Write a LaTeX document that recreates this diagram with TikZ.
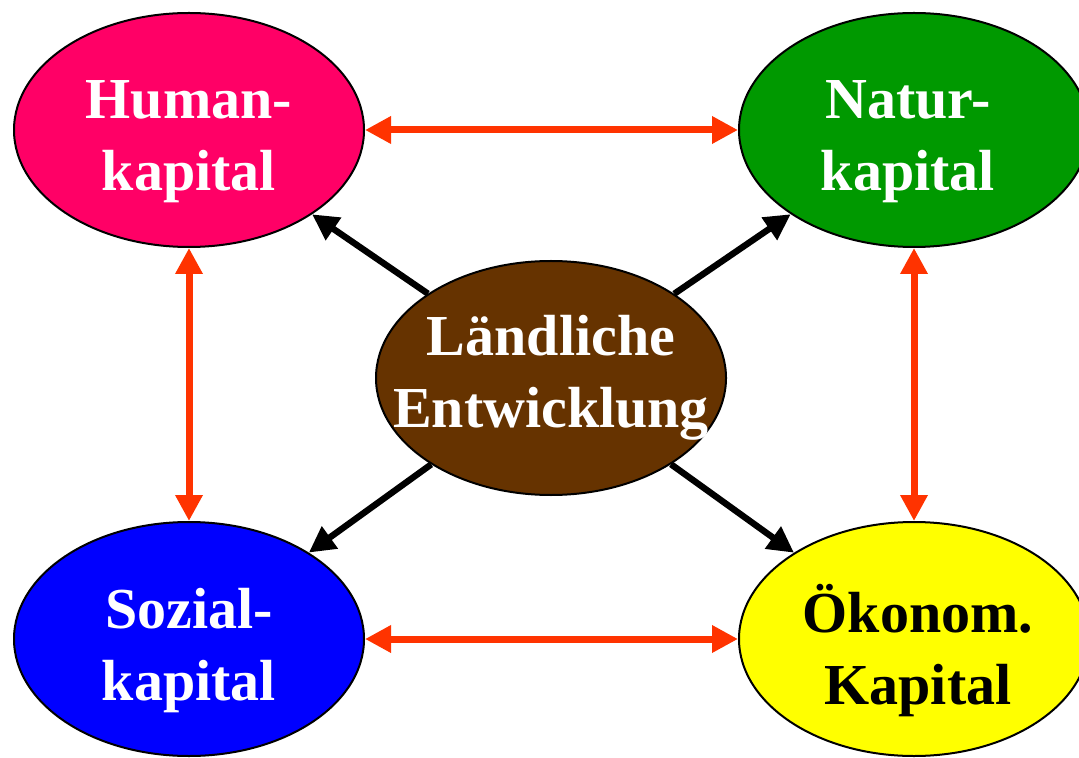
\documentclass[tikz,border=0pt]{standalone}
\usepackage{fontspec}
\setmainfont{Liberation Serif}
\usetikzlibrary{shapes.geometric,arrows.meta}
\definecolor{humanrot}{HTML}{FF0066}
\definecolor{naturgruen}{HTML}{009900}
\definecolor{sozialblau}{HTML}{0000FF}
\definecolor{oekogelb}{HTML}{FFFF00}
\definecolor{landbraun}{HTML}{663300}
\definecolor{pfeilrot}{HTML}{FF3300}
\tikzset{
	kapital/.style={ellipse, draw=black, line width=1pt, minimum width=175pt, minimum height=117pt},
	schrift/.style={font=\bfseries\fontsize{29pt}{36pt}\selectfont, align=center, text=white},
	wechsel/.style={<->, draw=pfeilrot, line width=3.5pt},
	wirkung/.style={->, draw=black, line width=3.2pt}
}
\begin{document}
\begin{tikzpicture}[x=0.5pt, y=-0.5pt, >={Triangle[length=13pt,width=13pt]}]
	\clip (0,0) rectangle (1079,758) ; % bildrand
	% die fuenf kapitalarten
	\node[kapital, fill=humanrot] (human) at (189,130) {};
	\node[kapital, fill=naturgruen] (natur) at (914,130) {};
	\node[kapital, fill=sozialblau] (sozial) at (189,639) {};
	\node[kapital, fill=oekogelb] (oekonom) at (914,639) {};
	\node[kapital, fill=landbraun] (land) at (551,378) {};
	\node[schrift] (humantext) at ([yshift=-6pt]human) {Human-\\kapital};
	\node[schrift] (naturtext) at ([xshift=-3pt, yshift=-6pt]natur) {Natur-\\kapital};
	\node[schrift] (sozialtext) at ([yshift=-6pt]sozial) {Sozial-\\kapital};
	\node[schrift, text=black] (oekonomtext) at ([xshift=2pt, yshift=-6pt]oekonom) {Ökonom.\\Kapital};
	\node[schrift] (landtext) at (land) {Ländliche\\Entwicklung};
	% pfeile
	\draw[wechsel] (human) -- (natur);
	\draw[wechsel] (sozial) -- (oekonom);
	\draw[wechsel] (human) -- (sozial);
	\draw[wechsel] (natur) -- (oekonom);
	\draw[wirkung] (land) -- (human);
	\draw[wirkung] (land) -- (natur);
	\draw[wirkung] (land) -- (sozial);
	\draw[wirkung] (land) -- (oekonom);
\end{tikzpicture}
\end{document}
